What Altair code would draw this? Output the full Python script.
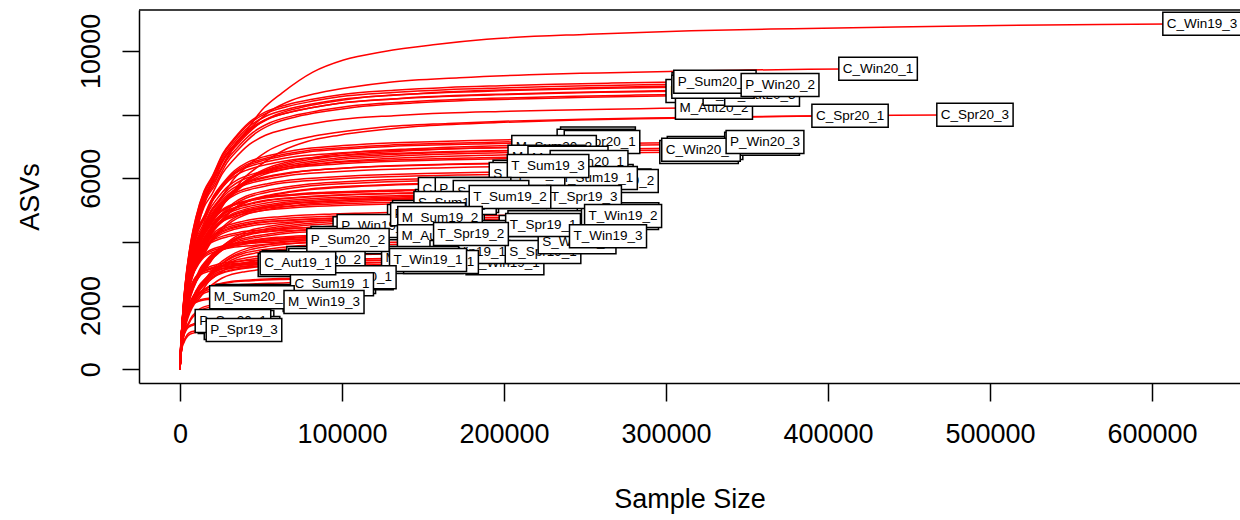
import altair as alt
import pandas as pd

# ---- samples (drawing order: labels further down the list are drawn on top) ----
names = [
    "M_Win20_1", "P_Aut20_1", "M_Win20_2", "S_Aut20_1", "S_Win20_2", "M_Sum20_2",
    "C_Win20_3", "C_Aut20_1", "P_Aut20_2", "T_Aut19_2", "S_Sum19_1", "M_Spr19_3",
    "T_Aut19_3", "T_Spr20_1", "T_Sum20_1", "T_Win20_1", "S_Aut19_2", "T_Aut20_1",
    "T_Win20_2", "T_Sum20_2", "T_Spr20_2", "S_Win19_3", "C_Sum20_2", "P_Spr20_3",
    "S_Aut20_2", "M_Sum19_3", "C_Sum20_3", "M_Aut19_2", "S_Aut19_3", "M_Win19_2",
    "T_Aut19_1", "P_Aut19_1", "P_Aut19_3", "C_Sum19_3", "P_Win19_2", "P_Win19_3",
    "C_Aut19_2", "C_Aut19_3", "C_Sum19_2", "S_Sum20_2", "C_Spr19_1", "C_Spr19_2",
    "M_Spr19_1", "M_Spr19_2", "P_Spr19_1", "P_Spr19_2",
    "S_Spr20_1", "M_Sum20_3", "M_Spr20_2", "M_Win20_3", "S_Win20_1", "C_Win20_2",
    "P_Win20_3", "P_Sum19_2", "M_Sum19_1", "S_Spr19_3", "T_Sum19_3", "P_Win19_1",
    "C_Sum20_1", "P_Spr20_2", "S_Spr20_3", "S_Sum19_2", "T_Spr19_3", "T_Sum19_2",
    "T_Win19_2", "P_Aut19_2", "M_Sum19_2", "M_Aut19_1", "S_Win19_1", "M_Win19_1",
    "S_Spr19_1", "S_Win19_2", "T_Spr19_1", "T_Spr19_2", "T_Win19_3", "M_Aut19_3",
    "S_Aut19_1", "T_Win19_1", "C_Spr20_2", "P_Sum20_2", "S_Sum20_1", "C_Sum19_1",
    "C_Aut19_1", "M_Sum20_1", "M_Win19_3", "P_Spr20_1", "P_Spr19_3",
    "M_Aut20_2", "P_Win20_1", "P_Aut20_3", "P_Sum20_3", "P_Sum20_1", "P_Win20_2",
    "C_Win20_1", "C_Spr20_1", "C_Spr20_3", "C_Win19_3",
]
sample_size = [
    324700, 338300, 328400, 258000, 256800, 232100,
    320400, 324100, 359300, 229600, 254300, 266700,
    216100, 246900, 270400, 263000, 204900, 225300,
    271600, 222200, 243800, 209900, 174100, 182100,
    190700, 161700, 171000, 159300, 179000, 154300,
    151900, 154300, 151200, 200600, 118500, 104900,
    74100, 71600, 95100, 106200, 101900, 89500,
    46300, 87700, 34600, 38300,
    260500, 230900, 226500, 239500, 252500, 321600,
    361100, 269800, 256200, 214200, 227200, 121000,
    172800, 180900, 192000, 169800, 249400, 203700,
    273500, 153100, 160500, 158000, 200600, 179000,
    224100, 245100, 224100, 179600, 264200, 148200,
    161100, 153100, 90700, 103700, 108000, 93800,
    72800, 44400, 88900, 32700, 39500,
    329600, 346900, 359300, 329000, 330200, 370400,
    430900, 413600, 490700, 630900,
]
asvs = [
    8740, 8770, 8960, 7250, 7180, 6890,
    6820, 6950, 7080, 6480, 6070, 5930,
    6200, 5470, 4870, 4250, 5470, 4620,
    4750, 4470, 4060, 3810, 5630, 5570,
    5500, 4810, 5280, 4250, 4310, 3490,
    3370, 4940, 4810, 5410, 4430, 4120,
    3370, 3270, 2740, 2860, 3990, 3490,
    2300, 2170, 1480, 1290,
    7140, 6980, 6670, 6640, 6510, 6890,
    7140, 5910, 6010, 6130, 6380, 4500,
    5660, 5660, 5570, 5220, 5410, 5410,
    4810, 4870, 4750, 4180, 3330, 3680,
    3680, 3990, 4530, 4250, 4180, 3490,
    3370, 3430, 3430, 4060, 2890, 2670,
    3330, 2260, 2110, 1510, 1230,
    8210, 8650, 8620, 8870, 9030, 8930,
    9440, 7960, 7990, 10850,
]

# rarefaction profile: share of depth vs share of final ASVs
depth_frac = [0, 0.002, 0.005, 0.01, 0.02, 0.03, 0.045, 0.06, 0.08, 0.1, 0.13,
              0.16, 0.2, 0.25, 0.3, 0.4, 0.5, 0.6, 0.7, 0.8, 0.9, 1.0]
asv_frac = [0, 0.09, 0.19, 0.30, 0.44, 0.53, 0.62, 0.67, 0.75, 0.80, 0.86,
            0.895, 0.92, 0.94, 0.955, 0.97, 0.98, 0.986, 0.991, 0.995, 0.998, 1.0]

x_ticks = [0, 100000, 200000, 300000, 400000, 500000, 600000]
y_ticks = [0, 2000, 4000, 6000, 8000, 10000]

rows = []
for nm, n_max, s_max in zip(names, sample_size, asvs):
    for k, (r, f) in enumerate(zip(depth_frac, asv_frac)):
        rows.append({"name": nm, "step": k, "x": r * n_max, "y": f * s_max})
curves = pd.DataFrame(rows)
labels = pd.DataFrame({"name": names, "x": sample_size, "y": asvs})

FONT = "Liberation Sans"
W, H = 1101, 373
xs = alt.Scale(domain=[-25300, 654300], nice=False, zero=False)
ys = alt.Scale(domain=[-434, 11284], nice=False, zero=False)

x_axis = alt.Axis(
    values=x_ticks, format="d", title="Sample Size", grid=False,
    labelFont=FONT, labelFontSize=27, labelColor="black", labelPadding=20,
    labelFlush=False, labelOverlap=False,
    tickSize=18, tickColor="black", tickWidth=1.5,
    domainColor="black", domainWidth=1.5,
    titleFont=FONT, titleFontSize=27, titleFontWeight="normal", titleColor="black",
    titleBaseline="alphabetic", titleY=124,
)
y_axis = alt.Axis(
    values=y_ticks, format="d", title="ASVs", grid=False,
    labelExpr="datum.value == 4000 || datum.value == 8000 ? '' : datum.label",
    labelFont=FONT, labelFontSize=27, labelColor="black", labelPadding=23,
    labelAngle=270, labelAlign="center", labelBaseline="alphabetic",
    labelFlush=False, labelOverlap=False,
    tickSize=17, tickColor="black", tickWidth=1.5,
    domainColor="black", domainWidth=1.5,
    titleFont=FONT, titleFontSize=27, titleFontWeight="normal", titleColor="black",
    titleAngle=270, titleAlign="center", titleBaseline="alphabetic", titleX=-101,
)

lines = alt.Chart(curves).mark_line(
    color="#ff0000", strokeWidth=1.5, interpolate="monotone"
).encode(
    detail="name:N",
    order="step:Q",
)

frame_top = alt.Chart(pd.DataFrame({"a": [0]})).mark_rule(
    color="black", strokeWidth=1.5
).encode(x=alt.value(0), x2=alt.value(W), y=alt.value(0))

CHAR_W = {"C": 0.722, "M": 0.833, "P": 0.667, "S": 0.667, "T": 0.611, "W": 0.944,
          "A": 0.667, "_": 0.556, "p": 0.556, "r": 0.333, "u": 0.556, "m": 0.833,
          "i": 0.222, "n": 0.556, "t": 0.278}
LABEL_SIZE = 13.5


def text_width(s):
    return sum(CHAR_W.get(c, 0.556) for c in s) * LABEL_SIZE


layers = [lines, frame_top]
for nm in names:
    w = text_width(nm) + 8
    h = 23
    r = h / w
    shape = f"M-1,{-r:.4f}L1,{-r:.4f}L1,{r:.4f}L-1,{r:.4f}Z"
    base = alt.Chart(labels).transform_filter(alt.datum.name == nm)
    box = base.mark_point(
        shape=shape, size=w * w, filled=True, fill="white", stroke="black",
        strokeWidth=1.5, opacity=1, fillOpacity=1, strokeOpacity=1,
    )
    txt = base.mark_text(
        font=FONT, fontSize=LABEL_SIZE, color="black", align="center", baseline="middle"
    ).encode(text="name:N")
    layers += [box, txt]

chart = alt.layer(*layers).encode(
    x=alt.X("x:Q", scale=xs, axis=x_axis),
    y=alt.Y("y:Q", scale=ys, axis=y_axis),
).properties(
    width=W, height=H,
    padding={"left": 139, "top": 10, "right": 0, "bottom": 137},
    autosize=alt.AutoSizeParams(type="none"),
    background="white",
).configure_view(stroke=None)

chart.save("out.html", embed_options={"renderer": "svg", "actions": False})
